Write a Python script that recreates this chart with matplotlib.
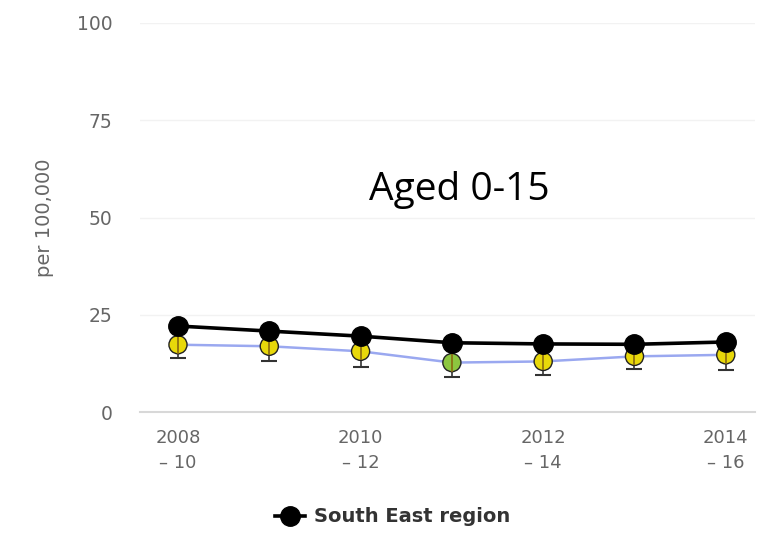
import numpy as np
import matplotlib.pyplot as plt

periods = ["2008\n– 10", "2009\n– 11", "2010\n– 12", "2011\n– 13",
           "2012\n– 14", "2013\n– 15", "2014\n– 16"]
region = [22.1, 20.8, 19.5, 17.8, 17.5, 17.4, 18.0]
local = [17.3, 16.9, 15.6, 12.7, 13.0, 14.3, 14.7]
local_low = [13.9, 13.0, 11.6, 9.0, 9.6, 11.1, 10.9]
local_high = [20.9, 20.8, 19.8, 16.6, 16.6, 17.7, 18.7]
local_colors = ["#e8d80a", "#e8d80a", "#e8d80a", "#8cc63f", "#e8d80a", "#e8d80a", "#e8d80a"]
yticks = [0, 25, 50, 75, 100]

fig = plt.figure(figsize=(7.71, 5.57), dpi=100)
ax = fig.add_axes([140 / 771, 145 / 557, 615 / 771, 389 / 557])

x = np.arange(len(periods))
lo = np.array(local) - np.array(local_low)
hi = np.array(local_high) - np.array(local)

ax.plot(x, local, color="#9aa8f0", lw=1.8, zorder=2)
ax.errorbar(x, local, yerr=[lo, hi], fmt="none", ecolor="#333333",
            elinewidth=1.2, capsize=6, capthick=1.5, zorder=3)
ax.scatter(x, local, s=170, c=local_colors, edgecolors="#222222",
           linewidths=1, zorder=4)
ax.plot(x, local, ls="none", marker="|", ms=13, mec="#8a6a10", mew=1.2, zorder=5)

ax.plot(x, region, color="black", lw=2.6, marker="o", ms=14,
        mfc="black", mec="black", zorder=6, label="South East region")

ax.set_ylim(0, 100)
ax.set_xlim(-0.416, 6.32)
ax.set_yticks(yticks)
ax.set_xticks(x[::2])
ax.set_xticklabels([periods[i] for i in range(0, len(periods), 2)])
ax.tick_params(axis="y", length=0, pad=20, labelsize=13.5, labelcolor="#666666")
ax.tick_params(axis="x", length=0, pad=12, labelsize=13, labelcolor="#666666")
for t in ax.get_xticklabels():
    t.set_linespacing(1.55)
ax.grid(axis="y", color="#f2f2f2", lw=1)
ax.set_axisbelow(True)
for side in ["top", "right", "left"]:
    ax.spines[side].set_visible(False)
ax.spines["bottom"].set_color("#d8d8d8")
ax.spines["bottom"].set_linewidth(1.5)

ax.set_ylabel("per 100,000", fontsize=14, color="#666666", labelpad=16)

ax.text(0.52, 0.57, "Aged 0-15", transform=ax.transAxes, ha="center",
        va="center", fontsize=28, family="Open Sans", color="black")

leg = fig.legend(loc="center", bbox_to_anchor=(393 / 771, 1 - 517 / 557),
                 frameon=False, prop={"weight": "bold", "size": 14},
                 handlelength=1.5, handletextpad=0.5)
for t in leg.get_texts():
    t.set_color("#333333")

fig.savefig("out.png", dpi=100)
